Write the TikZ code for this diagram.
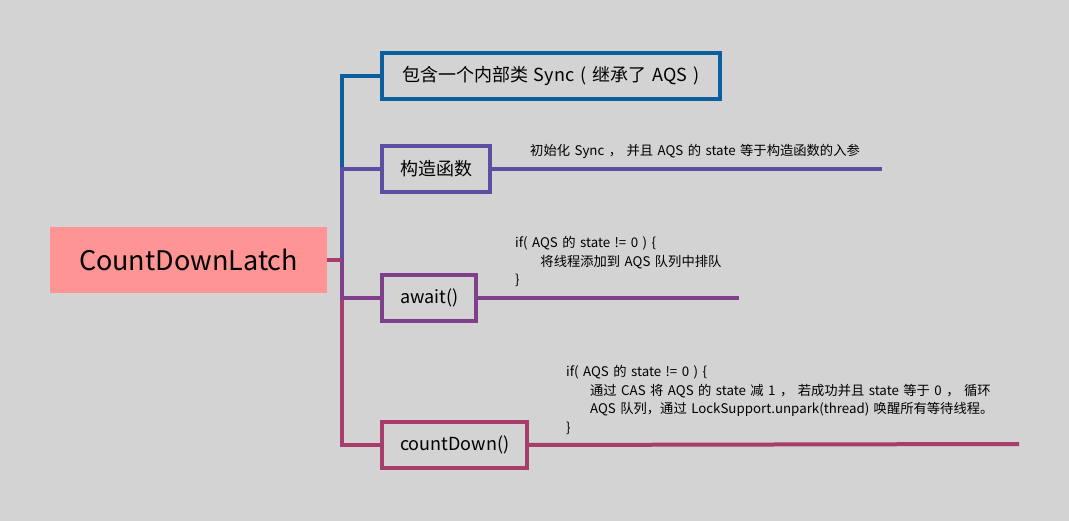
\documentclass[tikz,border=0pt]{standalone}
\usepackage{fontspec}
\setmainfont[WordSpace=1.5]{Noto Sans CJK SC}

\definecolor{bgGray}{HTML}{D3D3D3}
\definecolor{rootPink}{HTML}{FF9494}
\definecolor{syncBlue}{HTML}{0A5F9C}
\definecolor{ctorViolet}{HTML}{5A4FA0}
\definecolor{awaitPlum}{HTML}{7E3F8B}
\definecolor{countBerry}{HTML}{A63D6B}

\tikzset{
  branchbox/.style={draw, line width=4pt, inner xsep=18pt, inner ysep=0pt,
    minimum height=46pt, anchor=west, font=\fontsize{18}{22}\selectfont},
  branch/.style={line width=4pt},
  note/.style={inner sep=0pt, anchor=west, align=left,
    font=\fontsize{13.3}{18.5}\selectfont},
}

\begin{document}
\begin{tikzpicture}[x=1pt,y=-1pt]

    % Background and fixed frame
    \fill[bgGray] (0,0) rectangle (1069,521);
    \useasboundingbox (0,0) rectangle (1069,521);

    % Root node
    \node[fill=rootPink, minimum width=277pt, minimum height=66pt, inner sep=0pt,
      font=\fontsize{27}{31}\selectfont] (root) at (188.5,260) {CountDownLatch};

    % Fork point of the spine and the free ends of the lines
    \coordinate (fork) at (342,260);
    \coordinate (ctorEnd) at (882,169);
    \coordinate (awaitEnd) at (739,298);
    \coordinate (countEnd) at (1019,444);

    % Branch boxes
    \node[branchbox, draw=syncBlue, inner xsep=20pt, text width=298pt, align=left] (sync) at (380,76) {包含一个内部类 Sync ( 继承了 AQS )};
    \node[branchbox, draw=ctorViolet] (ctor) at (380,169) {构造函数};
    \node[branchbox, draw=awaitPlum] (await) at (380,298) {await()};
    \node[branchbox, draw=countBerry] (cdown) at (380,445) {countDown()};

    % Spine connectors
    \draw[branch, syncBlue] (fork) |- (sync.west);
    \draw[branch, ctorViolet] (fork) |- (ctor.west);
    \draw[branch, countBerry] (fork) |- (cdown.west);
    \draw[branch, awaitPlum] (fork) |- (await.west);
    \draw[branch, countBerry] (root.east) -- (fork);

    % Lines out of the boxes
    \draw[branch, ctorViolet] (ctor.east) -- (ctorEnd);
    \draw[branch, awaitPlum] (await.east) -- (awaitEnd);
    \draw[branch, countBerry] (cdown.east) -- (countEnd);

    % Notes above the lines
    \node[note] (ctorNote) at (530,151) {初始化 Sync ， 并且 AQS 的 state 等于构造函数的入参};
    \node[note] (awaitNote) at (515,262) {if( AQS 的 state != 0 ) \{\\
      \hspace*{1.9em}将线程添加到 AQS 队列中排队\\
      \}};
    \node[note] (countNote) at (566,400) {if( AQS 的 state != 0 ) \{\\
      \hspace*{1.8em}通过 CAS 将 AQS 的 state 减 1 ， 若成功并且 state 等于 0 ， 循环\\
      \hspace*{1.8em}AQS 队列，通过 LockSupport.unpark(thread) 唤醒所有等待线程。\\
      \}};

\end{tikzpicture}
\end{document}
